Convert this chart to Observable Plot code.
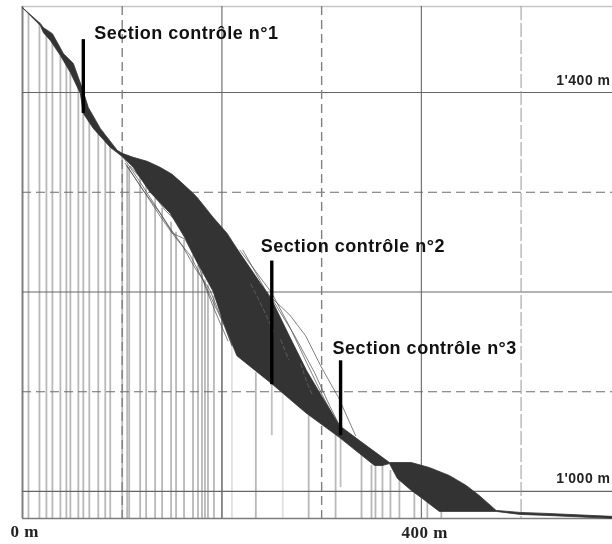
<!DOCTYPE html>
<html lang="fr">
<head>
<meta charset="utf-8">
<script src="https://cdn.jsdelivr.net/npm/d3@7"></script>
<script src="https://cdn.jsdelivr.net/npm/@observablehq/plot@0.6"></script>
<style>
html,body{margin:0;padding:0;background:#fff}
svg{display:block;filter:blur(0.35px)}
svg text{letter-spacing:.5px}
</style>
</head>
<body>
<div id="chart"></div>
<script>
// Band of simulated trajectories: distance (m) and elevation (m)
const upperX = [0,18,21,30,41,51,60,66,78,95,100,111,125,138,150,158,170,175,191,205,216,231,250,268,285,301,315,318,338,368,390,408,428,445,458,475,499,526,592];
const upperY = [1485,1469,1465,1459,1439,1429,1404,1385,1364,1342,1339,1335,1331,1325,1318,1311,1300,1295,1275,1259,1242,1220,1192,1155,1121,1094,1071,1066,1051,1029,1029,1024,1016,1006,996,981,979,978,975];
const lowerX = [592,526,499,475,418,401,390,376,368,361,353,338,318,284,250,215,201,191,175,163,148,128,111,101,88,71,61,58,48,38,28,21,18,0];
const lowerY = [973,976,977,980,980,993,1001,1013,1028,1026,1026,1038,1054,1079,1108,1136,1171,1201,1230,1254,1279,1300,1325,1335,1345,1364,1379,1399,1420,1437,1452,1460,1467,1485];

// Loose single trajectories
const looseRight1X = [235,250,268,284,299,317,334];
const looseRight1Y = [1212,1194,1177,1156,1126,1094,1056];
const looseRight2X = [218,250,268,285,301,315];
const looseRight2Y = [1242,1199,1165,1129,1096,1069];
const looseRight3X = [221,251,265,281,298,311];
const looseRight3Y = [1242,1189,1149,1121,1094,1071];
const looseRight4X = [251,273,293,308,318];
const looseRight4Y = [1192,1156,1119,1086,1066];
const looseRight5X = [250,268,288,303];
const looseRight5Y = [1187,1146,1106,1081];
const looseLeft1X = [101,118,133,148,160,173,188,200,210];
const looseLeft1Y = [1335,1310,1287,1264,1247,1224,1202,1172,1147];
const looseLeft2X = [103,121,138,153,168,181,193,203,210];
const looseLeft2Y = [1329,1302,1279,1255,1237,1212,1186,1166,1146];
const looseLeft3X = [113,128,143,158,173,188];
const looseLeft3Y = [1322,1302,1282,1267,1252,1232];
const looseLeft4X = [105,123,138,150,163,176,183,193,206];
const looseLeft4Y = [1326,1299,1276,1259,1253,1229,1206,1181,1151];
const looseLeft5X = [108,128,143,158,170,178,183];
const looseLeft5Y = [1326,1303,1286,1269,1255,1241,1221];

// Light streaks inside the band
const streak1X = [229,241,252];
const streak1Y = [1208,1184,1160];
const streak2X = [259,267];
const streak2Y = [1152,1132];
const streak3X = [279,285,291];
const streak3Y = [1128,1110,1096];

// Vertical stems (trees): position and top elevation
const stemX = [6,17,24,30,38,44,48,56,61,67,76,83,88,100,105,107,118,124,133,140,149,154,162,171,176,180,183,186,192,200,234,287,314,340,350,354,361,369,378,393,406,420];
const stemTop = [1479,1470,1462,1456,1442,1430,1422,1407,1392,1374,1360,1352,1345,1337,1327,1325,1314,1308,1294,1284,1270,1260,1252,1237,1227,1220,1212,1207,1196,1176,1119,1076,1061,1046,1026,1025,1026,1021,1013,999,991,981];
const faintStemX = [210,261];
const faintStemTop = [1151,1099];
const shortStemX = [250,319];
const shortStemTop = [1108,1056];
const shortStemBase = [1056,1004];

// Control sections
const sectionX = [61,250,319];
const sectionTop = [1453,1231,1131];
const sectionBase = [1379,1107,1056];
const sectionLabels = ["Section contrôle n°1","Section contrôle n°2","Section contrôle n°3"];
const sectionLabelX = [72,239,311];
const sectionLabelY = [1459,1246,1144];

// Grid
const solidX = [200,400];
const dashedX = [100,300];
const faintDashedX = [500];
const solidY = [1400,1200,1000];
const dashedY = [1300,1100];
const elevLabels = ["1'400 m","1'000 m"];
const elevLabelY = [1412,1013];
const distLabels = ["0 m","400 m"];
const distLabelX = [-12,380];
const distLabelY = [960,959];

const xMin = 0, xMax = 591.7, yMin = 972.9, yMax = 1486.2;

const zip = (xs, ys) => xs.map((x, i) => ({x, y: ys[i]}));
const band = zip(upperX.concat(lowerX), upperY.concat(lowerY));
const loose = [
  [looseRight1X, looseRight1Y],[looseRight2X, looseRight2Y],[looseRight3X, looseRight3Y],[looseRight4X, looseRight4Y],[looseRight5X, looseRight5Y],
  [looseLeft1X, looseLeft1Y],[looseLeft2X, looseLeft2Y],[looseLeft3X, looseLeft3Y],[looseLeft4X, looseLeft4Y],[looseLeft5X, looseLeft5Y]
].map(([a, b]) => zip(a, b));
const streaks = [[streak1X, streak1Y],[streak2X, streak2Y],[streak3X, streak3Y]].map(([a, b]) => zip(a, b));
const stems = stemX.map((x, i) => ({x, top: stemTop[i]}));
const faint = faintStemX.map((x, i) => ({x, top: faintStemTop[i]}));
const shortS = shortStemX.map((x, i) => ({x, top: shortStemTop[i], base: shortStemBase[i]}));
const sections = sectionX.map((x, i) => ({x, top: sectionTop[i], base: sectionBase[i]}));
const sectionText = sectionLabels.map((t, i) => ({t, x: sectionLabelX[i], y: sectionLabelY[i]}));
const elevText = elevLabels.map((t, i) => ({t, y: elevLabelY[i]}));
const distText = distLabels.map((t, i) => ({t, x: distLabelX[i], y: distLabelY[i]}));

const chart = Plot.plot({
  width: 612, height: 544,
  marginLeft: 22, marginRight: 0, marginTop: 6, marginBottom: 26,
  x: {domain: [xMin, xMax], axis: null},
  y: {domain: [yMin, yMax], axis: null},
  marks: [
    Plot.ruleX(stems, {x: "x", y1: yMin, y2: "top", stroke: "#b8b8b8", strokeWidth: 1.8}),
    Plot.ruleX(faint, {x: "x", y1: yMin, y2: "top", stroke: "#e0e0e0", strokeWidth: 1.8}),
    Plot.ruleX(shortS, {x: "x", y1: "base", y2: "top", stroke: "#c0c0c0", strokeWidth: 1.8}),
    Plot.ruleY([yMax], {stroke: "#c8c8c8", strokeWidth: 1.5}),
    Plot.ruleX([xMin], {stroke: "#808080", strokeWidth: 2}),
    Plot.ruleY([yMin], {stroke: "#7c7c7c", strokeWidth: 1.6}),
    Plot.ruleY(solidY, {stroke: "#666", strokeWidth: 1.2}),
    Plot.ruleY(dashedY, {stroke: "#6e6e6e", strokeWidth: 1.1, strokeDasharray: "9,5"}),
    Plot.ruleX(solidX, {stroke: "#666", strokeWidth: 1.1}),
    Plot.ruleX(dashedX, {stroke: "#808080", strokeWidth: 1.4, strokeDasharray: "9,5"}),
    Plot.ruleX(faintDashedX, {stroke: "#999", strokeWidth: 1, strokeDasharray: "14,3"}),
    ...loose.map(d => Plot.line(d, {x: "x", y: "y", stroke: "#4a4a4a", strokeWidth: 0.7})),
    Plot.line(band, {x: "x", y: "y", fill: "#333", stroke: "#333", strokeWidth: 0.8, curve: "linear"}),
    ...streaks.map(d => Plot.line(d, {x: "x", y: "y", stroke: "#666", strokeWidth: 0.8, strokeDasharray: "4,3"})),
    Plot.ruleX(sections, {x: "x", y1: "base", y2: "top", stroke: "#000", strokeWidth: 3.4}),
    Plot.text(sectionText, {x: "x", y: "y", text: "t", textAnchor: "start", fontFamily: "Liberation Sans", fontWeight: "bold", fontSize: 18, fill: "#111"}),
    Plot.text(elevText, {x: xMax, y: "y", dx: -2, text: "t", textAnchor: "end", fontFamily: "Liberation Sans", fontWeight: "bold", fontSize: 14, fill: "#222"}),
    Plot.text(distText, {x: "x", y: "y", text: "t", textAnchor: "start", fontFamily: "Liberation Serif", fontWeight: "bold", fontSize: 17, fill: "#222"})
  ]
});
document.getElementById("chart").appendChild(chart);
</script>
</body>
</html>
